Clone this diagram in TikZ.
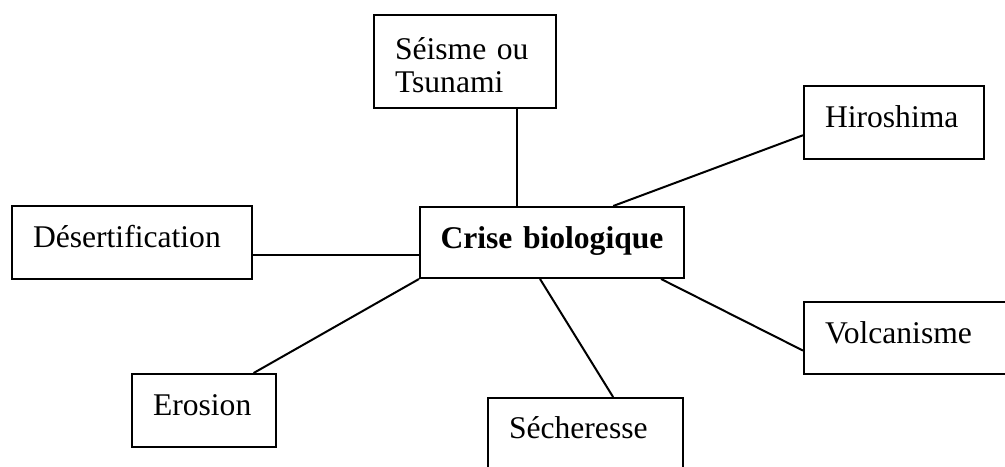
\documentclass[tikz,border=0pt]{standalone}
\usepackage{fontspec}
\setmainfont{Liberation Serif}
\usetikzlibrary{calc}
\tikzset{
  boite/.style={draw, line width=1pt, anchor=north west, inner xsep=10.5pt, inner ysep=0pt,
    text height=20.5pt, text depth=16pt, text width=#1, align=left,
    font=\fontsize{15.8}{17}\selectfont},
  lien/.style={line width=1pt}
}

\begin{document}
\begin{tikzpicture}[x=0.5pt,y=-0.5pt]
\clip (0,0) rectangle (1005,466);
\fill[white] (0,0) rectangle (1005,466);
% les boites
\node[boite=70pt, text height=22pt, text depth=24.5pt] (seisme) at (373,14) {Séisme ou\\Tsunami};
\node[boite=121pt, inner xsep=5.5pt, align=center, text depth=15pt, font=\fontsize{15.8}{17}\selectfont\bfseries] (crise) at (419,206) {Crise biologique};
\node[boite=69pt] (hiro) at (803,85) {Hiroshima};
\node[boite=99pt] (desert) at (11,205) {Désertification};
\node[boite=51pt] (erosion) at (131,373) {Erosion};
\node[boite=84pt, text depth=15.5pt] (volcan) at (803,301) {Volcanisme};
\node[boite=76.5pt, text height=20pt, text depth=60pt] (seche) at (487,397) {Sécheresse};
% les liens
\coordinate (s1) at ($(seisme.south west)!0.78!(seisme.south east)$);
\draw[lien] (s1) -- (s1 |- crise.north);
\draw[lien] ($(crise.north west)!0.73!(crise.north east)$) -- ($(hiro.north west)!0.67!(hiro.south west)$);
\coordinate (d1) at ($(desert.north east)!0.66!(desert.south east)$);
\draw[lien] (d1) -- (d1 -| crise.west);
\draw[lien] (crise.south west) -- ($(erosion.north west)!0.84!(erosion.north east)$);
\draw[lien] ($(crise.south west)!0.455!(crise.south east)$) -- ($(seche.north west)!0.64!(seche.north east)$);
\draw[lien] ($(crise.south west)!0.91!(crise.south east)$) -- ($(volcan.north west)!0.67!(volcan.south west)$);
\end{tikzpicture}
\end{document}
